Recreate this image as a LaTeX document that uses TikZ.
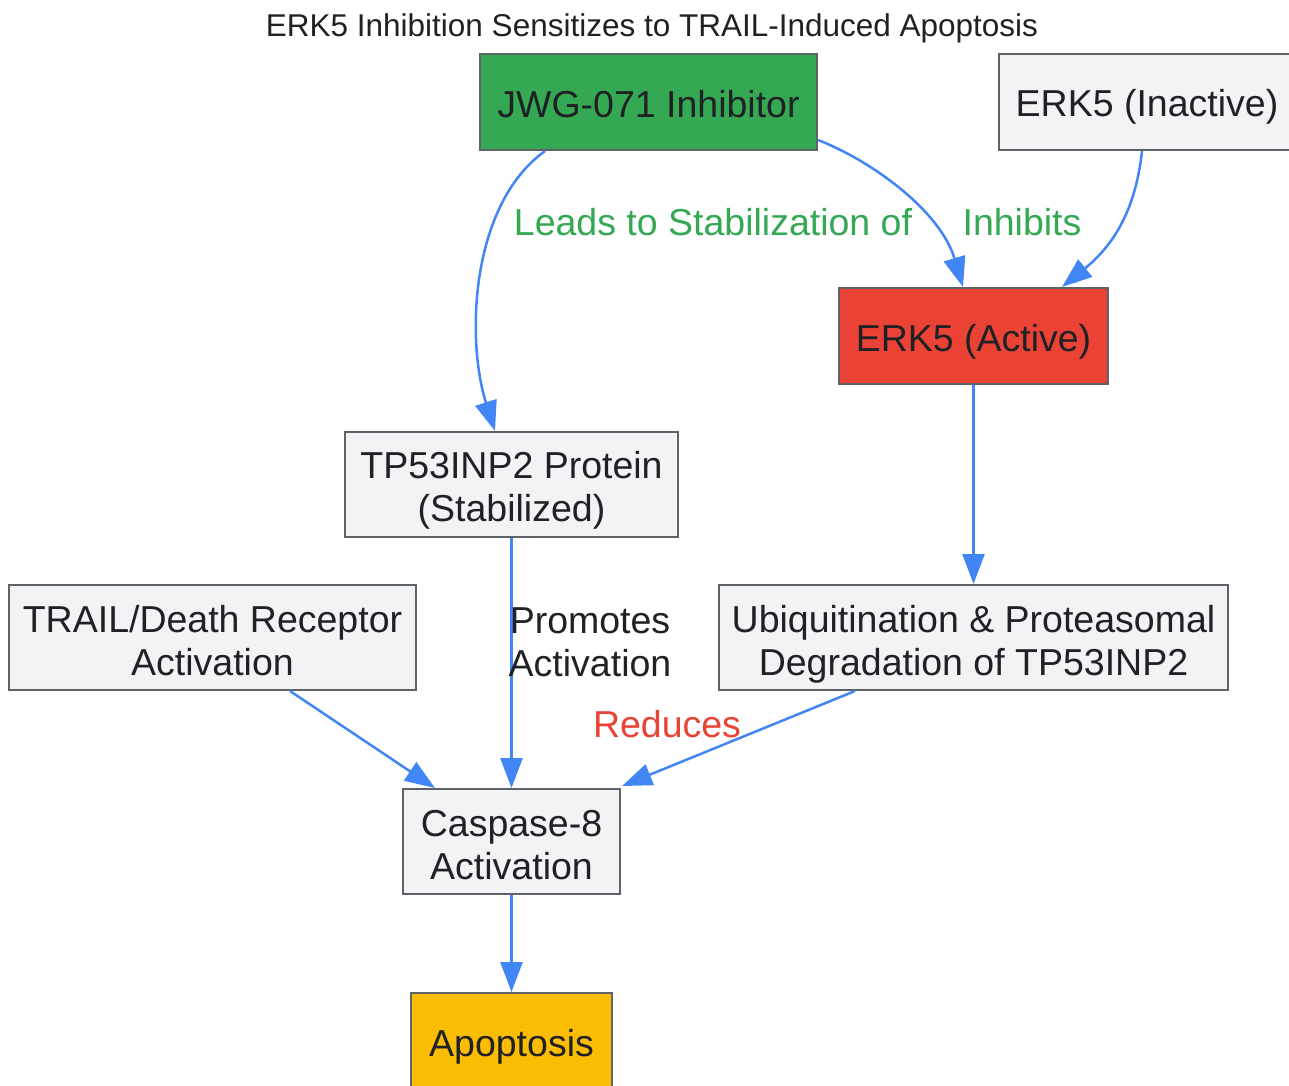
\documentclass[tikz,border=0pt]{standalone}
\usepackage{fontspec}
\setmainfont{Liberation Sans}
\usetikzlibrary{arrows.meta}
\definecolor{gblue}{HTML}{4285F4}
\definecolor{ggreen}{HTML}{34A853}
\definecolor{gred}{HTML}{EA4335}
\definecolor{gyellow}{HTML}{FBBC04}
\definecolor{ggrey}{HTML}{F1F3F4}
\definecolor{gborder}{HTML}{5F6368}
\definecolor{gtext}{HTML}{202124}
\begin{document}
\begin{tikzpicture}[x=1pt,y=-1pt,
  box/.style={draw=gborder,line width=2pt,fill=ggrey,inner sep=0pt},
  btext/.style={align=center,inner sep=0pt,text=gtext,font=\fontsize{37.5}{43}\selectfont},
  arr/.style={draw=gblue,line width=2.5pt,-{Triangle[length=30pt,width=22pt]}},
  lbl/.style={font=\fontsize{37.5}{43}\selectfont,align=center,inner sep=0pt}]
\useasboundingbox (0,0) rectangle (1289,1085);
\node[font=\fontsize{31.5}{36}\selectfont,text=gtext] (title) at (652,28.5) {ERK5 Inhibition Sensitizes to TRAIL-Induced Apoptosis};
\node[box,fill=ggreen,minimum width=337pt,minimum height=96pt] (jwg) at (648.5,102) {};
\node[box,minimum width=296pt,minimum height=96pt] (inact) at (1147,102) {};
\node[box,fill=gred,minimum width=269pt,minimum height=96pt] (act) at (973.5,336) {};
\node[box,minimum width=333pt,minimum height=105pt] (tp) at (511.5,484.5) {};
\node[box,minimum width=407pt,minimum height=105pt] (trail) at (212.5,637.5) {};
\node[box,minimum width=509pt,minimum height=105pt] (ubq) at (973.5,637.5) {};
\node[box,minimum width=217pt,minimum height=105pt] (casp) at (511.5,841.5) {};
\node[box,fill=gyellow,minimum width=201pt,minimum height=97pt] (apo) at (511.5,1041.5) {};
% box texts
\node[btext] (jwgt) at ([yshift=-2pt]jwg.center) {JWG-071 Inhibitor};
\node[btext] (inactt) at ([yshift=-5pt]inact.center) {ERK5 (Inactive)};
\node[btext] (actt) at ([yshift=-6pt]act.center) {ERK5 (Active)};
\node[btext] (tpt) at ([yshift=-5.5pt]tp.center) {TP53INP2 Protein\\(Stabilized)};
\node[btext] (trailt) at ([yshift=-3pt]trail.center) {TRAIL/Death Receptor\\Activation};
\node[btext] (ubqt) at ([yshift=-6.5pt]ubq.center) {Ubiquitination \& Proteasomal\\Degradation of TP53INP2};
\node[btext] (caspt) at ([yshift=-4pt]casp.center) {Caspase-8\\Activation};
\node[btext] (apot) at ([yshift=-5pt]apo.center) {Apoptosis};
% edges
\draw[arr] ([xshift=-103.5pt]jwg.south) .. controls (470,205) and (466,340) .. ([xshift=-16.5pt]tp.north);
\draw[arr] ([yshift=-38pt]jwg.east) .. controls (870,160) and (940,210) .. ([xshift=-10.5pt]act.north);
\draw[arr] ([xshift=-5pt]inact.south) .. controls (1135,215) and (1110,248) .. ([xshift=88.5pt]act.north);
\draw[arr] (act.south) -- (ubq.north);
\draw[arr] (tp.south) -- (casp.north);
\draw[arr] ([xshift=77.5pt]trail.south) -- ([xshift=-76.5pt]casp.north);
\draw[arr] ([xshift=-118.5pt]ubq.south) -- ([xshift=1pt,yshift=2pt]casp.north east);
\draw[arr] (casp.south) -- (apo.north);
% labels
\node[lbl,text=ggreen] (l1) at (713,222) {Leads to Stabilization of};
\node[lbl,text=ggreen] (l2) at (1022,222) {Inhibits};
\node[lbl,text=gtext] (l3) at (590,642) {Promotes\\Activation};
\node[lbl,text=gred] (l4) at (667,724) {Reduces};
\end{tikzpicture}
\end{document}
